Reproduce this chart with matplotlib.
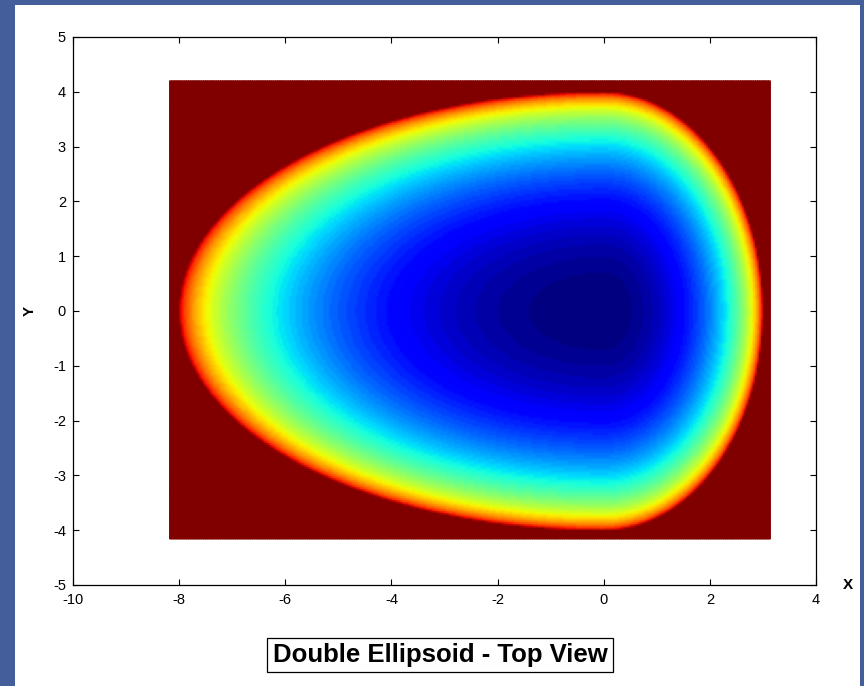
import numpy as np
import matplotlib.pyplot as plt
from matplotlib.patches import Rectangle

# double ellipsoid parameters
a_front = 3.0
a_rear = 8.0
b_half = 4.0
x_range = [-8.18, 3.14]
y_range = [-4.16, 4.2]
step = 0.04

x_ticks = [-10, -8, -6, -4, -2, 0, 2, 4]
y_ticks = [-5, -4, -3, -2, -1, 0, 1, 2, 3, 4, 5]

xs = np.arange(x_range[0], x_range[1] + step / 2, step)
ys = np.arange(y_range[0], y_range[1] + step / 2, step)
X, Y = np.meshgrid(xs, ys)
A = np.where(X >= 0, a_front, a_rear)
R2 = (X / A) ** 2 + (Y / b_half) ** 2
Z = np.where(R2 < 1, -np.sqrt(np.clip(1 - R2, 0, None)), 0.0)

plt.rcParams['font.family'] = ['Liberation Sans', 'DejaVu Sans']
plt.rcParams['axes.unicode_minus'] = False

fig = plt.figure(figsize=(8.64, 6.86), dpi=100, facecolor='#445e9c')
fig.patches.append(Rectangle((15 / 864, 0), 845 / 864, 681 / 686, transform=fig.transFigure,
                             facecolor='white', edgecolor='none', zorder=-10))

ax = fig.add_axes([73 / 864, 101 / 686, 743 / 864, 548 / 686])
ax.set_zorder(5)
ax.pcolormesh(X, Y, Z, cmap=plt.get_cmap('jet', 64), vmin=-1, vmax=0, shading='gouraud')

ax.set_xlim(-10, 4)
ax.set_ylim(-5, 5)
ax.set_xticks(x_ticks)
ax.set_yticks(y_ticks)
ax.tick_params(direction='in', length=4.5, width=0.8, top=True, right=True,
               labelsize=10.5, pad=5)
ax.tick_params(axis='x', pad=6)
for s in ax.spines.values():
    s.set_linewidth(0.9)
    s.set_color('black')

ax.set_xlabel('X', fontweight='bold', fontsize=11, ha='center', va='center')
ax.xaxis.set_label_coords(1.043, 0.0)
ax.set_ylabel('Y', fontweight='bold', fontsize=11, ha='center', va='center')
ax.yaxis.set_label_coords(-0.058, 0.5)

fig.text(440 / 864, 1 - 655 / 686, 'Double Ellipsoid - Top View', fontsize=18.5,
         fontweight='bold', ha='center', va='center', zorder=6,
         bbox=dict(boxstyle='square,pad=0.2', facecolor='white', edgecolor='black', linewidth=0.9))

fig.savefig('out.png', dpi=100, facecolor=fig.get_facecolor())
